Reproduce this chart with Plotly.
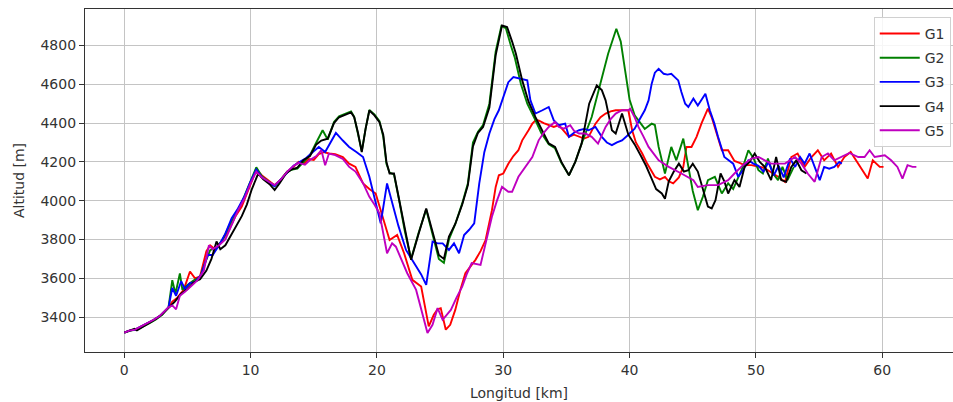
import plotly.graph_objects as go

# Elevation profiles: (distance km, altitude m)
g1 = [(0, 3320), (0.4, 3330), (0.85, 3335), (1.3, 3350), (1.8, 3365), (2.3, 3385), (2.8, 3405), (3.2, 3430),
      (3.5, 3450), (3.8, 3480), (4.2, 3500), (4.7, 3540), (5.2, 3635), (5.6, 3600), (6.0, 3610), (6.5, 3740),
      (6.8, 3770), (7.2, 3750), (7.7, 3790), (8.3, 3850), (8.8, 3920), (9.3, 3970), (9.8, 4050), (10.45, 4160),
      (10.9, 4130), (11.5, 4100), (11.9, 4080), (12.4, 4110), (12.9, 4150), (13.4, 4175), (13.8, 4200), (14.2, 4190),
      (14.6, 4215), (15.0, 4210), (15.4, 4240), (15.8, 4250), (16.2, 4243), (16.7, 4240), (17.3, 4225), (17.8, 4191),
      (18.3, 4174), (18.9, 4089), (19.4, 4060), (19.9, 4037), (20.45, 3917), (21.0, 3797), (21.6, 3823), (22.15, 3729),
      (22.8, 3592), (23.5, 3557), (24.1, 3352), (24.5, 3412), (24.8, 3440), (25.05, 3446), (25.45, 3335), (25.8, 3360),
      (26.2, 3437), (26.6, 3540), (27.0, 3626), (27.4, 3660), (27.8, 3695), (28.2, 3740), (28.6, 3797), (29.1, 3950),
      (29.4, 4071), (29.65, 4131), (30.0, 4140), (30.4, 4190), (30.8, 4230), (31.2, 4260), (31.5, 4311), (32.0, 4363),
      (32.3, 4397), (32.55, 4414), (32.8, 4414), (33.2, 4400), (33.6, 4389), (34.0, 4380), (34.4, 4389), (34.8, 4360),
      (35.2, 4329), (35.6, 4340), (36.0, 4329), (36.4, 4320), (36.75, 4329), (37.3, 4397), (37.7, 4430), (38.1, 4449),
      (38.5, 4460), (38.9, 4466), (39.4, 4466), (39.9, 4466), (40.2, 4363), (40.5, 4300), (41.0, 4243), (41.4, 4190),
      (42.0, 4123), (42.4, 4110), (42.8, 4123), (43.1, 4100), (43.45, 4089), (43.9, 4120), (44.25, 4174), (44.5, 4277),
      (44.9, 4277), (45.3, 4329), (45.7, 4400), (46.0, 4449), (46.2, 4474), (46.5, 4430), (46.75, 4380), (47.3, 4260),
      (47.8, 4260), (48.3, 4205), (48.7, 4195), (49.1, 4183), (49.65, 4183), (50.2, 4174), (50.6, 4170), (50.95, 4157),
      (51.4, 4140), (51.75, 4123), (52.3, 4097), (52.8, 4225), (53.3, 4243), (53.85, 4174), (54.4, 4225), (54.9, 4260),
      (55.4, 4208), (55.95, 4243), (56.5, 4174), (57.0, 4225), (57.5, 4251), (58.1, 4191), (58.5, 4150), (58.85, 4114),
      (59.25, 4208), (59.8, 4174), (60.1, 4174)]

g2 = [(0, 3320), (0.5, 3330), (1.0, 3335), (1.5, 3350), (2.0, 3368), (2.5, 3388), (3.0, 3412), (3.5, 3450),
      (3.8, 3590), (4.05, 3520), (4.4, 3625), (4.6, 3540), (5.0, 3565), (5.5, 3590), (6.0, 3605), (6.4, 3680),
      (6.8, 3745), (7.3, 3760), (7.8, 3800), (8.3, 3870), (8.8, 3930), (9.3, 3990), (9.8, 4070), (10.45, 4172),
      (10.9, 4125), (11.5, 4095), (11.9, 4075), (12.4, 4110), (12.9, 4150), (13.3, 4160), (13.7, 4165), (14.2, 4200),
      (14.7, 4235), (15.2, 4300), (15.7, 4363), (16.1, 4315), (16.6, 4405), (17.0, 4435), (17.5, 4450), (17.95, 4460),
      (18.2, 4432), (18.5, 4350), (18.8, 4255), (19.1, 4370), (19.4, 4468), (19.8, 4445), (20.2, 4410), (20.5, 4330),
      (20.75, 4190), (21.0, 4145), (21.35, 4135), (21.75, 4005), (22.2, 3845), (22.7, 3700), (23.3, 3835), (23.9, 3955),
      (24.4, 3830), (24.9, 3700), (25.3, 3680), (25.7, 3800), (26.2, 3880), (26.75, 3986), (27.2, 4090), (27.6, 4300),
      (28.0, 4355), (28.4, 4390), (28.9, 4500), (29.4, 4770), (29.85, 4900), (30.2, 4890), (30.6, 4800), (30.9, 4740),
      (31.4, 4600), (31.9, 4500), (32.5, 4420), (33.0, 4350), (33.6, 4290), (34.1, 4270), (34.6, 4195), (35.2, 4131),
      (35.7, 4200), (36.2, 4294), (37.0, 4431), (37.7, 4600), (38.3, 4757), (38.95, 4886), (39.3, 4820), (39.65, 4669),
      (40.0, 4520), (40.4, 4440), (40.7, 4414), (41.2, 4370), (41.75, 4397), (42.0, 4390), (42.3, 4277), (42.8, 4140),
      (43.3, 4277), (43.7, 4208), (44.25, 4320), (44.65, 4174), (45.0, 4050), (45.4, 3951), (45.8, 4020), (46.2, 4106),
      (46.75, 4123), (47.3, 4037), (47.8, 4089), (48.2, 4060), (48.6, 4123), (49.0, 4180), (49.4, 4260), (49.8, 4220),
      (50.2, 4157), (50.55, 4140), (50.95, 4217), (51.35, 4140), (51.75, 4106), (52.1, 4174), (52.5, 4106), (53.0, 4174)]

g3 = [(0, 3320), (0.4, 3330), (0.85, 3335), (1.3, 3350), (1.8, 3365), (2.3, 3385), (2.8, 3405), (3.2, 3430),
      (3.5, 3450), (3.8, 3550), (4.1, 3510), (4.5, 3585), (4.8, 3545), (5.2, 3575), (5.6, 3580), (6.1, 3620),
      (6.6, 3720), (7.0, 3720), (7.5, 3770), (8.0, 3830), (8.5, 3910), (9.0, 3960), (9.5, 4020), (10.0, 4100),
      (10.45, 4160), (10.9, 4120), (11.5, 4090), (11.9, 4075), (12.4, 4110), (12.9, 4150), (13.4, 4180), (13.9, 4200),
      (14.4, 4220), (14.9, 4250), (15.4, 4277), (15.9, 4251), (16.3, 4300), (16.75, 4349), (17.3, 4310), (17.8, 4277),
      (18.4, 4250), (18.9, 4225), (19.4, 4123), (19.9, 3986), (20.3, 3883), (20.8, 4089), (21.2, 3994), (21.7, 3870),
      (22.3, 3746), (22.9, 3680), (23.5, 3620), (23.9, 3566), (24.4, 3789), (24.8, 3780), (25.2, 3780), (25.7, 3746),
      (26.1, 3780), (26.5, 3729), (26.9, 3823), (27.3, 3850), (27.7, 3883), (28.1, 4089), (28.5, 4250), (28.9, 4346),
      (29.3, 4420), (29.65, 4466), (30.0, 4530), (30.4, 4611), (30.8, 4637), (31.2, 4630), (31.5, 4628), (31.9, 4620),
      (32.15, 4517), (32.55, 4449), (33.1, 4466), (33.6, 4483), (34.0, 4414), (34.4, 4389), (34.9, 4397), (35.2, 4329),
      (35.6, 4350), (36.0, 4363), (36.4, 4370), (36.75, 4363), (37.3, 4380), (37.8, 4329), (38.2, 4300), (38.6, 4286),
      (39.0, 4300), (39.4, 4311), (39.9, 4340), (40.4, 4371), (40.8, 4420), (41.2, 4466), (41.5, 4517), (41.75, 4603),
      (42.0, 4660), (42.3, 4680), (42.7, 4654), (43.0, 4650), (43.3, 4654), (43.85, 4620), (44.1, 4560), (44.4, 4500),
      (44.65, 4483), (45.05, 4526), (45.4, 4491), (45.7, 4520), (46.0, 4551), (46.35, 4466), (46.7, 4400), (47.0, 4329),
      (47.5, 4225), (48.2, 4191), (48.6, 4123), (49.0, 4160), (49.4, 4208), (49.8, 4191), (50.2, 4180), (50.6, 4150),
      (51.0, 4200), (51.4, 4130), (51.8, 4180), (52.2, 4120), (52.7, 4217), (53.1, 4174), (53.5, 4225), (53.85, 4191),
      (54.25, 4243), (54.65, 4174), (55.05, 4106), (55.4, 4174), (55.8, 4165), (56.2, 4174), (56.6, 4200), (56.8, 4191)]

g4 = [(0, 3320), (0.5, 3335), (0.8, 3340), (1.0, 3332), (1.5, 3350), (2.0, 3370), (2.5, 3390), (3.0, 3415),
      (3.5, 3445), (4.0, 3480), (4.5, 3520), (5.0, 3545), (5.5, 3580), (6.0, 3595), (6.5, 3640), (6.9, 3700),
      (7.3, 3790), (7.6, 3750), (8.0, 3770), (8.5, 3830), (8.9, 3870), (9.3, 3920), (9.7, 3980), (10.1, 4060),
      (10.6, 4140), (11.0, 4110), (11.5, 4085), (11.9, 4055), (12.3, 4090), (12.8, 4140), (13.2, 4160), (13.7, 4170),
      (14.2, 4210), (14.7, 4230), (15.2, 4290), (15.6, 4310), (16.1, 4320), (16.6, 4400), (17.0, 4430), (17.5, 4445),
      (17.95, 4455), (18.2, 4430), (18.5, 4350), (18.8, 4250), (19.1, 4370), (19.4, 4465), (19.8, 4440), (20.2, 4405),
      (20.5, 4340), (20.75, 4200), (21.0, 4140), (21.35, 4140), (21.75, 4010), (22.2, 3850), (22.7, 3695), (23.3, 3830),
      (23.9, 3960), (24.4, 3840), (24.9, 3720), (25.3, 3700), (25.7, 3815), (26.2, 3880), (26.75, 3980), (27.2, 4080),
      (27.6, 4280), (28.0, 4350), (28.4, 4380), (28.9, 4480), (29.4, 4750), (29.9, 4903), (30.3, 4895), (30.7, 4820),
      (31.0, 4757), (31.5, 4620), (32.0, 4510), (32.55, 4430), (33.1, 4360), (33.6, 4295), (34.1, 4277), (34.6, 4200),
      (35.2, 4131), (35.7, 4200), (36.2, 4294), (36.8, 4500), (37.4, 4594), (37.8, 4570), (38.1, 4517), (38.6, 4363),
      (38.9, 4346), (39.4, 4449), (39.9, 4340), (40.4, 4290), (40.9, 4230), (41.3, 4180), (41.7, 4120), (42.1, 4060),
      (42.55, 4037), (42.8, 4010), (43.1, 4100), (43.5, 4150), (43.9, 4191), (44.3, 4150), (44.65, 4157), (45.0, 4190),
      (45.4, 4150), (45.8, 4060), (46.2, 3970), (46.5, 3960), (46.8, 4003), (47.2, 4140), (47.5, 4100), (47.8, 4037),
      (48.3, 4106), (48.7, 4071), (49.1, 4174), (49.5, 4200), (49.9, 4243), (50.3, 4200), (50.7, 4174), (51.2, 4106),
      (51.6, 4225), (52.0, 4106), (52.4, 4097), (52.8, 4174), (53.2, 4208), (53.6, 4157), (54.0, 4140)]

g5 = [(0, 3320), (0.4, 3330), (0.85, 3335), (1.3, 3350), (1.8, 3365), (2.3, 3385), (2.8, 3405), (3.2, 3430),
      (3.5, 3450), (3.8, 3460), (4.1, 3440), (4.4, 3510), (4.8, 3530), (5.3, 3560), (5.8, 3590), (6.3, 3640),
      (6.7, 3770), (7.0, 3750), (7.5, 3770), (8.0, 3800), (8.5, 3880), (9.0, 3950), (9.5, 4010), (10.0, 4090),
      (10.45, 4150), (10.9, 4120), (11.5, 4095), (11.9, 4080), (12.4, 4110), (12.9, 4150), (13.4, 4180), (13.8, 4195),
      (14.3, 4185), (14.7, 4210), (15.2, 4230), (15.6, 4260), (15.9, 4183), (16.2, 4243), (16.7, 4235), (17.3, 4215),
      (17.8, 4174), (18.3, 4150), (18.9, 4090), (19.4, 4020), (19.8, 3980), (20.2, 3935), (20.8, 3729), (21.2, 3780),
      (21.5, 3763), (22.0, 3690), (22.4, 3626), (23.1, 3540), (23.6, 3420), (24.0, 3318), (24.4, 3360), (24.8, 3446),
      (25.2, 3386), (25.5, 3410), (25.85, 3437), (26.3, 3500), (26.75, 3557), (27.1, 3620), (27.5, 3678), (28.2, 3669),
      (28.6, 3780), (29.1, 3917), (29.5, 4000), (29.9, 4071), (30.4, 4046), (30.7, 4046), (31.2, 4123), (31.7, 4170),
      (32.3, 4225), (32.8, 4311), (33.2, 4350), (33.6, 4380), (34.1, 4406), (34.4, 4380), (34.8, 4371), (35.3, 4389),
      (35.6, 4360), (36.0, 4346), (36.5, 4346), (37.0, 4329), (37.5, 4294), (38.1, 4380), (38.5, 4420), (38.9, 4449),
      (39.4, 4466), (39.9, 4466), (40.05, 4474), (40.4, 4430), (40.7, 4380), (41.1, 4330), (41.5, 4277), (42.3, 4208),
      (43.1, 4174), (44.1, 4140), (45.05, 4106), (45.4, 4071), (46.2, 4080), (47.0, 4080), (47.8, 4106), (48.3, 4140),
      (49.1, 4191), (49.65, 4217), (50.2, 4225), (50.7, 4208), (51.2, 4191), (51.5, 4191), (52.3, 4191), (53.1, 4225),
      (53.6, 4191), (54.1, 4140), (54.65, 4097), (55.2, 4225), (55.7, 4243), (56.2, 4208), (56.75, 4225), (57.4, 4246),
      (58.1, 4225), (58.6, 4225), (59.0, 4260), (59.4, 4225), (60.2, 4234), (60.7, 4208), (61.2, 4174), (61.6, 4114),
      (62.0, 4183), (62.4, 4174), (62.7, 4174)]

series_names = ["G1", "G2", "G3", "G4", "G5"]
series_data = [g1, g2, g3, g4, g5]
series_colors = ["#ff0000", "#008000", "#0000ff", "#000000", "#bf00bf"]

x_ticks = [0, 10, 20, 30, 40, 50, 60]
y_ticks = [3400, 3600, 3800, 4000, 4200, 4400, 4600, 4800]

fig = go.Figure()
for name, data, color in zip(series_names, series_data, series_colors):
    fig.add_trace(go.Scatter(
        x=[p[0] for p in data],
        y=[p[1] for p in data],
        mode="lines",
        name=name,
        legendgroup=name,
        line=dict(color=color, width=1.9),
    ))

axis_common = dict(
    showgrid=True,
    gridcolor="#c4c4c4",
    gridwidth=1,
    zeroline=False,
    showline=True,
    linecolor="#333333",
    linewidth=1.2,
    ticks="outside",
    ticklen=5,
    tickwidth=1,
    tickcolor="#333333",
    tickfont=dict(family="DejaVu Sans", size=14, color="#333333"),
)

fig.update_layout(
    width=953,
    height=402,
    margin=dict(l=85, r=0, t=9, b=50),
    paper_bgcolor="white",
    plot_bgcolor="white",
    font=dict(family="DejaVu Sans", size=14, color="#333333"),
    xaxis=dict(
        range=[-3.11, 65.6],
        tickvals=x_ticks,
        mirror=True,
        title=dict(text="Longitud [km]", standoff=11, font=dict(size=14)),
        **axis_common,
    ),
    yaxis=dict(
        range=[3220, 4988],
        tickvals=y_ticks,
        title=dict(text="Altitud [m]", standoff=12, font=dict(size=14)),
        **axis_common,
    ),
    legend=dict(
        x=0.9974,
        y=0.977,
        xanchor="right",
        yanchor="top",
        bgcolor="rgba(255,255,255,0.85)",
        bordercolor="#d0d0d0",
        borderwidth=1,
        tracegroupgap=3,
        itemwidth=40,
        font=dict(family="DejaVu Sans", size=14, color="#333333"),
    ),
    showlegend=True,
)

fig.write_html("out.html")
